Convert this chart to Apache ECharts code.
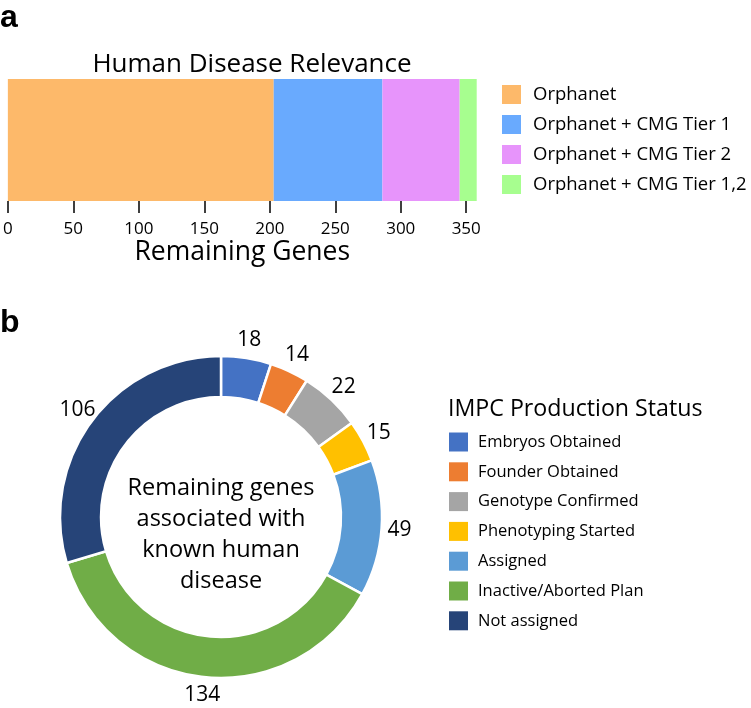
<!DOCTYPE html>
<html>
<head>
<meta charset="utf-8">
<script src="https://cdn.jsdelivr.net/npm/echarts@6/dist/echarts.min.js"></script>
<style>html,body{margin:0;padding:0;background:#fff;}#c{width:751px;height:708px;}</style>
</head>
<body>
<div id="c"></div>
<script>
// ---- Data ----
const barCategories = ['Orphanet', 'Orphanet + CMG Tier 1', 'Orphanet + CMG Tier 2', 'Orphanet + CMG Tier 1,2'];
const barValues = [203, 83, 59, 13];
const xTickValues = [0, 50, 100, 150, 200, 250, 300, 350];
const pieNames = ['Embryos Obtained', 'Founder Obtained', 'Genotype Confirmed', 'Phenotyping Started', 'Assigned', 'Inactive/Aborted Plan', 'Not assigned'];
const pieValues = [18, 14, 22, 15, 49, 134, 106];

// ---- Styles ----
const barColors = ['#FDB96A', '#69AAFE', '#E794FB', '#A7FE8F'];
const pieColors = ['#4472C4', '#ED7D31', '#A5A5A5', '#FFC000', '#5B9BD5', '#70AD47', '#264478'];
const FONT = 'Open Sans';
const total = barValues.reduce((a, b) => a + b, 0);

const chart = echarts.init(document.getElementById('c'), null, {renderer: 'canvas'});

const barSeries = barCategories.map((name, i) => ({
  type: 'bar',
  name: name,
  stack: 'all',
  data: [barValues[i]],
  barWidth: '100%',
  itemStyle: {color: barColors[i]},
  emphasis: {disabled: true},
  silent: true
}));

const pieData = pieNames.map((n, i) => ({name: n, value: pieValues[i], itemStyle: {color: pieColors[i]}}));
const pieLabelData = pieNames.map((n, i) => ({name: n, value: pieValues[i]}));

const option = {
  animation: false,
  textStyle: {fontFamily: FONT},
  title: [
    {text: 'a', left: 0, top: 2, padding: 0, textStyle: {fontFamily: 'Liberation Sans', fontWeight: 'bold', fontSize: 32, color: '#000', lineHeight: 32}},
    {text: 'b', left: 0, top: 307, padding: 0, textStyle: {fontFamily: 'Liberation Sans', fontWeight: 'bold', fontSize: 32, color: '#000', lineHeight: 32}},
    {text: 'Human Disease Relevance', left: 252, top: 50, padding: 0, textAlign: 'center', textStyle: {fontFamily: FONT, fontWeight: 'normal', fontSize: 26, color: '#000', lineHeight: 30}},
    {text: 'Remaining genes\nassociated with\nknown human\ndisease', left: 221, top: 473, padding: 0, textAlign: 'center', textStyle: {fontFamily: FONT, fontWeight: 'normal', fontSize: 23.5, color: '#000', lineHeight: 31}},
    {text: 'IMPC Production Status', left: 448, top: 395, padding: 0, textStyle: {fontFamily: FONT, fontWeight: 'normal', fontSize: 23.2, color: '#000', lineHeight: 28}}
  ],
  legend: [
    {
      data: barCategories,
      orient: 'vertical',
      left: 502, top: 85,
      padding: 0,
      itemWidth: 19, itemHeight: 19, itemGap: 11,
      icon: 'rect',
      selectedMode: false,
      itemStyle: {borderWidth: 0},
      textStyle: {fontFamily: FONT, fontSize: 18.5, lineHeight: 19, color: '#000', padding: [0, 0, 0, 7]}
    },
    {
      data: pieNames,
      orient: 'vertical',
      left: 449, top: 432.5,
      padding: 0,
      itemWidth: 19, itemHeight: 19, itemGap: 10.8,
      icon: 'rect',
      selectedMode: false,
      itemStyle: {borderWidth: 0},
      textStyle: {fontFamily: FONT, fontSize: 16.5, lineHeight: 19, color: '#000', padding: [0, 0, 0, 5]}
    }
  ],
  grid: {left: 5, top: 79, width: 471.7, height: 122, containLabel: false},
  xAxis: {
    type: 'value',
    min: 0, max: total,
    name: 'Remaining Genes',
    nameLocation: 'middle',
    nameGap: 36,
    nameTextStyle: {fontFamily: FONT, fontSize: 26.5, color: '#000'},
    axisLine: {show: false},
    axisTick: {show: true, length: 12, lineStyle: {color: '#000', width: 1.5}, customValues: xTickValues},
    axisLabel: {fontFamily: FONT, fontSize: 17, color: '#000', margin: 20, customValues: xTickValues},
    splitLine: {show: false}
  },
  yAxis: {
    type: 'category',
    data: ['Genes'],
    show: false
  },
  series: [
    ...barSeries,
    {
      type: 'pie',
      name: 'IMPC',
      center: [221, 517],
      radius: [120, 161],
      startAngle: 90,
      clockwise: true,
      silent: true,
      label: {show: false},
      labelLine: {show: false},
      itemStyle: {borderColor: '#fff', borderWidth: 2.5},
      emphasis: {disabled: true},
      data: pieData
    },
    {
      type: 'pie',
      name: 'IMPC labels',
      center: [221, 517],
      radius: [156, 196],
      startAngle: 90,
      clockwise: true,
      silent: true,
      itemStyle: {color: 'rgba(0,0,0,0)'},
      label: {show: true, position: 'inside', formatter: '{c}', fontFamily: FONT, fontSize: 21, color: '#000'},
      labelLine: {show: false},
      emphasis: {disabled: true},
      data: pieLabelData
    }
  ]
};
chart.setOption(option);
</script>
</body>
</html>
